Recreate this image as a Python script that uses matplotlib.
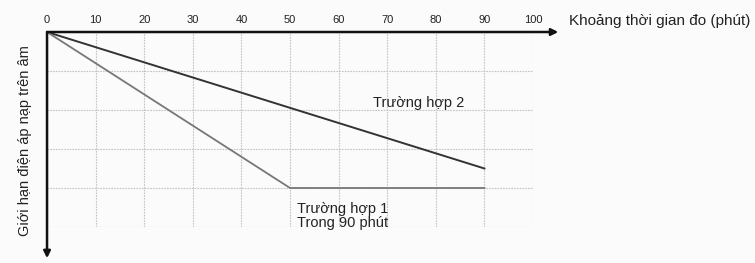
import matplotlib
matplotlib.use("Agg")
import matplotlib.pyplot as plt

plt.rcParams['font.family'] = ['Liberation Sans', 'DejaVu Sans']

# data (x in minutes, y in grid units below the axis)
x_ticks = [0, 10, 20, 30, 40, 50, 60, 70, 80, 90, 100]
case2_x = [0, 90]
case2_y = [0, -3.5]
case1_x = [0, 50, 90]
case1_y = [0, -4.0, -4.0]

label_x = "Khoảng thời gian đo (phút)"
label_y = "Giới hạn điện áp nạp trên âm"
label_case2 = "Trường hợp 2"
label_case1 = "Trường hợp 1\nTrong 90 phút"

fig = plt.figure(figsize=(7.55, 2.63), dpi=100)
fig.patch.set_facecolor('#fbfbfb')
ax = fig.add_axes([0.0623, 0.1369, 0.6437, 0.7414])
ax.set_facecolor('#fbfbfb')

ax.set_xlim(0, 100)
ax.set_ylim(-5, 0)
ax.xaxis.tick_top()
ax.set_xticks(x_ticks)
ax.set_xticklabels([str(t) for t in x_ticks], fontsize=8, color='#222222')
ax.set_yticks([-1, -2, -3, -4, -5])
ax.set_yticklabels([])
ax.tick_params(length=0, pad=5)
ax.grid(True, color='#c4c4c4', linestyle=(0, (1.5, 1)), linewidth=0.8)
for s in ax.spines.values():
    s.set_visible(False)

ax.plot(case2_x, case2_y, color='#333333', linewidth=1.4)
ax.plot(case1_x, case1_y, color='#777777', linewidth=1.3)

# axis arrows
ax.annotate('', xy=(105.2, 0), xytext=(0, 0), annotation_clip=False,
            arrowprops=dict(arrowstyle='-|>', color='#111111', lw=1.8,
                            mutation_scale=10, shrinkA=0, shrinkB=0))
ax.annotate('', xy=(0, -5.8), xytext=(0, 0), annotation_clip=False,
            arrowprops=dict(arrowstyle='-|>', color='#111111', lw=1.8,
                            mutation_scale=10, shrinkA=0, shrinkB=0))

ax.text(107.5, 0.1, label_x, fontsize=11, color='#222222', va='bottom', ha='left',
        clip_on=False)
ax.text(-4.6, -2.78, label_y, fontsize=10.5, color='#222222', rotation=90,
        va='center', ha='center', clip_on=False)
ax.text(67, -1.82, label_case2, fontsize=10.5, color='#222222', va='center', ha='left')
ax.text(51.5, -4.35, label_case1, fontsize=10.5, color='#222222', va='top', ha='left',
        linespacing=1.05)

fig.savefig('out.png', dpi=100)
